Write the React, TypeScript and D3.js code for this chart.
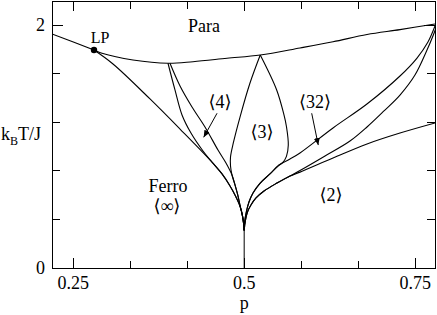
import * as d3 from "d3";

// phase boundaries, [p, kBT/J]
const paraLine = [
  [0.219, 1.928], [0.2804, 1.796], [0.2921, 1.769], [0.3374, 1.714], [0.3886, 1.687],
  [0.4252, 1.700], [0.4749, 1.728], [0.5235, 1.755], [0.5816, 1.813], [0.6299, 1.864],
  [0.6796, 1.924], [0.7278, 1.964], [0.779, 2.011],
];
const ferroLine = [
  [0.2804, 1.796], [0.3082, 1.681], [0.3623, 1.393], [0.4062, 1.145], [0.45, 0.89],
  [0.4676, 0.775], [0.4793, 0.676], [0.4873, 0.593], [0.4945, 0.5], [0.4975, 0.43],
  [0.4993, 0.36], [0.5, 0.31],
];
const phase4Left = [
  [0.3886, 1.687], [0.3988, 1.467], [0.4091, 1.261], [0.4222, 1.112], [0.4398, 0.964],
  [0.4529, 0.873], [0.4676, 0.775], [0.4793, 0.676], [0.4873, 0.593], [0.4945, 0.5],
  [0.4975, 0.43], [0.4993, 0.36], [0.5, 0.31],
];
const phase4Right = [
  [0.3915, 1.687], [0.4062, 1.5], [0.4237, 1.327], [0.4427, 1.162], [0.4617, 0.972],
  [0.4734, 0.865], [0.4822, 0.766], [0.4866, 0.684], [0.491, 0.593], [0.4945, 0.5],
  [0.4975, 0.43], [0.4993, 0.36], [0.5, 0.31],
];
const phase3Left = [
  [0.5235, 1.755], [0.5085, 1.524], [0.4939, 1.244], [0.4841, 1.03], [0.48, 0.915],
  [0.48, 0.84], [0.4822, 0.766], [0.4866, 0.684], [0.491, 0.593], [0.4945, 0.5],
  [0.4975, 0.43], [0.4993, 0.36], [0.5, 0.31],
];
const phase3Right = [
  [0.5235, 1.755], [0.5475, 1.467], [0.5582, 1.261], [0.5619, 1.162], [0.5645, 1.013],
  [0.5618, 0.92], [0.5562, 0.868], [0.5495, 0.84], [0.5377, 0.775], [0.5231, 0.698],
  [0.5129, 0.618], [0.507, 0.544], [0.5031, 0.461], [0.5009, 0.387], [0.5, 0.31],
];
const phase32Upper = [
  [0.5, 0.31], [0.5009, 0.387], [0.5031, 0.461], [0.507, 0.544], [0.5129, 0.618],
  [0.5231, 0.698], [0.5377, 0.775], [0.5509, 0.849], [0.567, 0.898], [0.5816, 0.948],
  [0.6299, 1.154], [0.6795, 1.351], [0.7278, 1.582], [0.7527, 1.73], [0.7687, 1.862],
  [0.779, 1.994],
];
const phase32Lower = [
  [0.5, 0.31], [0.5016, 0.387], [0.5048, 0.461], [0.5099, 0.519], [0.5173, 0.577],
  [0.529, 0.634], [0.548, 0.7], [0.567, 0.758], [0.5816, 0.803], [0.6182, 0.923],
  [0.6547, 1.046], [0.6796, 1.162], [0.7044, 1.294], [0.7278, 1.425], [0.7497, 1.59],
  [0.7673, 1.796], [0.776, 1.912], [0.7804, 1.978],
];
const phase2Line = [
  [0.5, 0.31], [0.5016, 0.387], [0.5048, 0.461], [0.5099, 0.519], [0.5173, 0.577],
  [0.529, 0.634], [0.548, 0.7], [0.567, 0.758], [0.5816, 0.79], [0.6299, 0.906],
  [0.6796, 1.022], [0.7278, 1.112], [0.779, 1.195],
];
const multiphaseLine = [[0.5, 0], [0.5, 0.31]];

const lifshitzPoint = [0.2804, 1.796];

const xMajorTicks = [0.25, 0.5, 0.75];
const xTickLabels = ["0.25", "0.5", "0.75"];
const xMinorTicks = [0.3333, 0.4167, 0.5833, 0.6667];
const yMajorTicks = [0, 2];
const yTickLabels = ["0", "2"];
const yMinorTicks = [0.4, 0.8, 1.2, 1.6];

// phase labels [text, p, T]
const phaseLabels: [string, number, number][] = [
  ["Para", 0.4412, 1.945],
  ["\u27e84\u27e9", 0.4646, 1.318],
  ["\u27e83\u27e9", 0.526, 1.071],
  ["\u27e832\u27e9", 0.6035, 1.318],
  ["\u27e82\u27e9", 0.6269, 0.552],
  ["Ferro", 0.3886, 0.625],
  ["\u27e8\u221e\u27e9", 0.3871, 0.462],
];
// arrows [from p, from T, to p, to T]
const arrows = [
  [0.4603, 1.275, 0.4408, 1.077],
  [0.5987, 1.275, 0.6083, 1.013],
];

const W = 437;
const H = 315;
const left = 52, right = 435, top = 1, bottom = 268;
const font = "'Liberation Serif', 'Times New Roman', 'DejaVu Serif', serif";

export default function App() {
  const x = d3.scaleLinear().domain([0.219, 0.779]).range([left, right]);
  const y = d3.scaleLinear().domain([0, 2.2]).range([bottom, top]);

  const line = d3
    .line<number[]>()
    .x((d) => x(d[0]))
    .y((d) => y(d[1]))
    .curve(d3.curveCatmullRom.alpha(0.5));

  const curves = [
    paraLine, ferroLine, phase4Left, phase4Right, phase3Left, phase3Right,
    phase32Upper, phase32Lower, phase2Line,
  ];

  return (
    <svg width={W} height={H} style={{ position: "absolute", left: 0, top: 0, background: "#fff" }}>
      <defs>
        <clipPath id="plot">
          <rect x={left} y={top} width={right - left} height={bottom - top} />
        </clipPath>
        <marker id="head" markerUnits="userSpaceOnUse" markerWidth={8} markerHeight={6}
          refX={7} refY={3} orient="auto">
          <path d="M0,0 L7,3 L0,6 Z" fill="#000" />
        </marker>
      </defs>

      <g clipPath="url(#plot)" fill="none" stroke="#000" strokeWidth={1.1}>
        {curves.map((c, i) => (
          <path key={i} d={line(c) ?? ""} />
        ))}
        <path d={d3.line()(multiphaseLine.map((d) => [x(d[0]), y(d[1])]) as any) ?? ""} strokeWidth={1} />
      </g>

      <circle cx={x(lifshitzPoint[0])} cy={y(lifshitzPoint[1])} r={3.2} fill="#000" />

      {/* frame and ticks */}
      <g stroke="#000" strokeWidth={1} shapeRendering="crispEdges">
        <rect x={left} y={top} width={right - left} height={bottom - top} fill="none" />
        {xMajorTicks.map((t) => (
          <g key={"xM" + t}>
            <line x1={x(t)} x2={x(t)} y1={bottom} y2={bottom - 10} />
            <line x1={x(t)} x2={x(t)} y1={top} y2={top + 10} />
          </g>
        ))}
        {xMinorTicks.map((t) => (
          <g key={"xm" + t}>
            <line x1={x(t)} x2={x(t)} y1={bottom} y2={bottom - 7} />
            <line x1={x(t)} x2={x(t)} y1={top} y2={top + 8} />
          </g>
        ))}
        {yMajorTicks.map((t) => (
          <g key={"yM" + t}>
            <line x1={left} x2={left + 11} y1={y(t)} y2={y(t)} />
            <line x1={right} x2={right - 11} y1={y(t)} y2={y(t)} />
          </g>
        ))}
        {yMinorTicks.map((t) => (
          <g key={"ym" + t}>
            <line x1={left} x2={left + 8} y1={y(t)} y2={y(t)} />
            <line x1={right} x2={right - 8} y1={y(t)} y2={y(t)} />
          </g>
        ))}
      </g>

      <g style={{ fontFamily: font }} fontSize={18} fill="#000">
        {xMajorTicks.map((t, i) => (
          <text key={"xl" + t} x={x(t)} y={289} textAnchor="middle">{xTickLabels[i]}</text>
        ))}
        {yMajorTicks.map((t, i) => (
          <text key={"yl" + t} x={45} y={y(t) + 6} textAnchor="end">{yTickLabels[i]}</text>
        ))}
        <text x={x(0.5)} y={309} textAnchor="middle">p</text>
        <text x={1} y={140}>
          k<tspan fontSize={12} dy={5}>B</tspan><tspan dy={-5}>T/J</tspan>
        </text>
        {phaseLabels.map(([s, p, T]) => (
          <text key={s} x={x(p)} y={y(T)} textAnchor="middle">{s}</text>
        ))}
        <text x={x(0.2892)} y={y(1.854)} textAnchor="middle" fontSize={16}>LP</text>
      </g>

      <g stroke="#000" strokeWidth={1}>
        {arrows.map((a, i) => (
          <line key={i} x1={x(a[0])} y1={y(a[1])} x2={x(a[2])} y2={y(a[3])} markerEnd="url(#head)" />
        ))}
      </g>
    </svg>
  );
}
